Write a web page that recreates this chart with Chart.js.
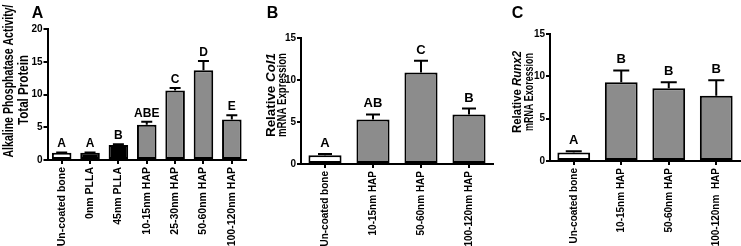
<!DOCTYPE html>
<html>
<head>
  <meta charset="UTF-8">
  <script src="https://cdn.jsdelivr.net/npm/chart.js@4.4.1/dist/chart.umd.min.js"></script>
  <style>
    body { margin: 0; background: #fff; }
    #wrap { position: relative; width: 741px; height: 246px; }
    canvas { position: absolute; top: 0; }
  </style>
</head>
<body>
  <div id="wrap">
    <canvas id="chartA" width="258" height="246" style="left:0px"></canvas>
    <canvas id="chartB" width="240" height="246" style="left:258px"></canvas>
    <canvas id="chartC" width="243" height="246" style="left:498px"></canvas>
  </div>
  <script>
    // panel A - ALP activity
    const labelsA = ['Un-coated bone', '0nm PLLA', '45nm PLLA', '10-15nm HAP', '25-30nm HAP', '50-60nm HAP', '100-120nm HAP'];
    const alpMean = [1.1, 1.1, 2.3, 5.4, 10.6, 13.7, 6.2];
    const alpUpper = [1.15, 1.15, 2.4, 5.85, 11.0, 15.1, 6.85];
    const alpLetters = ['A', 'A', 'B', 'ABE', 'C', 'D', 'E'];

    // panel B - Col1
    const labelsB = ['Un-coated bone', '10-15nm HAP', '50-60nm HAP', '100-120nm HAP'];
    const col1Mean = [1.05, 5.3, 10.9, 5.9];
    const col1Upper = [1.2, 5.9, 12.3, 6.6];
    const col1Letters = ['A', 'AB', 'C', 'B'];

    // panel C - Runx2
    const labelsC = ['Un-coated bone', '10-15nm HAP', '50-60nm HAP', '100-120nm  HAP'];
    const runx2Mean = [1.0, 9.3, 8.6, 7.7];
    const runx2Upper = [1.15, 10.7, 9.3, 9.55];
    const runx2Letters = ['A', 'B', 'B', 'B'];

    const FONT = "'Liberation Sans', Arial, sans-serif";
    const GRAY = '#8c8c8c';

    function drawRotated(ctx, parts, cx, cy, size, maxLen) {
      let total = 0;
      parts.forEach(p => {
        ctx.font = (p.italic ? 'italic ' : '') + 'bold ' + size + 'px ' + FONT;
        p.w = ctx.measureText(p.t).width;
        total += p.w;
      });
      const s = maxLen ? maxLen / total : 1;
      ctx.save();
      ctx.translate(cx, cy);
      ctx.rotate(-Math.PI / 2);
      ctx.scale(s, 1);
      ctx.textBaseline = 'middle';
      ctx.textAlign = 'left';
      ctx.fillStyle = '#000';
      let x = -total / 2;
      parts.forEach(p => {
        ctx.font = (p.italic ? 'italic ' : '') + 'bold ' + size + 'px ' + FONT;
        ctx.fillText(p.t, x, 0);
        x += p.w;
      });
      ctx.restore();
    }

    const extras = {
      id: 'extras',
      afterDatasetsDraw(chart, args, o) {
        const ctx = chart.ctx;
        const yScale = chart.scales.y;
        const bars = chart.getDatasetMeta(0).data;
        ctx.save();
        ctx.strokeStyle = '#000';
        ctx.lineWidth = 2;
        ctx.fillStyle = '#000';
        bars.forEach((bar, i) => {
          const yTop = yScale.getPixelForValue(o.upper[i]);
          ctx.beginPath();
          ctx.moveTo(bar.x, bar.y);
          ctx.lineTo(bar.x, yTop);
          ctx.moveTo(bar.x - o.capW / 2, yTop);
          ctx.lineTo(bar.x + o.capW / 2, yTop);
          ctx.stroke();
          ctx.font = 'bold ' + o.letterSize + 'px ' + FONT;
          ctx.textAlign = 'center';
          ctx.textBaseline = 'alphabetic';
          ctx.fillText(o.letters[i], bar.x, yTop - o.gap);
        });
        // panel letter
        ctx.font = 'bold 16px ' + FONT;
        ctx.textAlign = 'center';
        ctx.fillText(o.panel, o.panelX, 18);
        ctx.restore();
        o.title.forEach(line => drawRotated(ctx, line.parts, line.x, line.y, line.size, line.len));
      }
    };

    function makeChart(id, labels, values, colors, ex, yMax, layout) {
      return new Chart(document.getElementById(id), {
        type: 'bar',
        data: {
          labels: labels,
          datasets: [{
            data: values,
            backgroundColor: colors,
            borderColor: '#000',
            borderWidth: 2,
            borderSkipped: false,
            barPercentage: 0.69,
            categoryPercentage: 1
          }]
        },
        options: {
          responsive: false,
          animation: false,
          devicePixelRatio: 1,
          layout: { padding: { top: layout.top, right: layout.right, left: 0, bottom: 0 } },
          plugins: { legend: { display: false }, tooltip: { enabled: false }, extras: ex },
          scales: {
            x: {
              grid: { drawOnChartArea: false, offset: false, tickLength: 4, color: '#000', lineWidth: 2 },
              border: { color: '#000', width: 2 },
              ticks: { autoSkip: false, minRotation: 90, maxRotation: 90, padding: layout.xPad, color: '#000',
                       font: { family: FONT, weight: 'bold', size: layout.xFont } },
              afterFit: s => { s.height = layout.xH; }
            },
            y: {
              min: 0, max: yMax,
              grid: { drawOnChartArea: false, tickLength: 4, color: '#000', lineWidth: 2 },
              border: { color: '#000', width: 2 },
              ticks: { stepSize: 5, padding: 1, color: '#000',
                       font: { family: FONT, weight: 'bold', size: 10 } },
              afterFit: s => { s.width = layout.yW; }
            }
          }
        },
        plugins: [extras]
      });
    }

    makeChart('chartA', labelsA, alpMean,
      ['#fff', '#000', '#000', GRAY, GRAY, GRAY, GRAY],
      {
        upper: alpUpper, letters: alpLetters, capW: 11, gap: 5, letterSize: 12,
        panel: 'A', panelX: 37.5,
        title: [
          { parts: [{ t: 'Alkaline Phosphatase Activity/' }], x: 9, y: 81, size: 15, len: 153 },
          { parts: [{ t: 'Total Protein' }], x: 24, y: 90, size: 15, len: 70 }
        ]
      }, 20, { top: 29, right: 12, xH: 86, yW: 47.5, xPad: 3, xFont: 10.5 });

    makeChart('chartB', labelsB, col1Mean,
      ['#fff', GRAY, GRAY, GRAY],
      {
        upper: col1Upper, letters: col1Letters, capW: 14, gap: 7, letterSize: 13,
        panel: 'B', panelX: 14.5,
        title: [
          { parts: [{ t: 'Relative ' }, { t: 'Col1', italic: true }], x: 14, y: 95, size: 12, len: 84 },
          { parts: [{ t: 'mRNA Expression' }], x: 25, y: 95, size: 12, len: 84 }
        ]
      }, 15, { top: 38, right: 5, xH: 82, yW: 43, xPad: 3, xFont: 10 });

    makeChart('chartC', labelsC, runx2Mean,
      ['#fff', GRAY, GRAY, GRAY],
      {
        upper: runx2Upper, letters: runx2Letters, capW: 16, gap: 7, letterSize: 13,
        panel: 'C', panelX: 19.5,
        title: [
          { parts: [{ t: 'Relative ' }, { t: 'Runx2', italic: true }], x: 20, y: 92, size: 12, len: 82 },
          { parts: [{ t: 'mRNA Exoression' }], x: 32, y: 92, size: 12, len: 78 }
        ]
      }, 15, { top: 34, right: 1, xH: 85, yW: 52, xPad: 3, xFont: 10 });
  </script>
</body>
</html>
